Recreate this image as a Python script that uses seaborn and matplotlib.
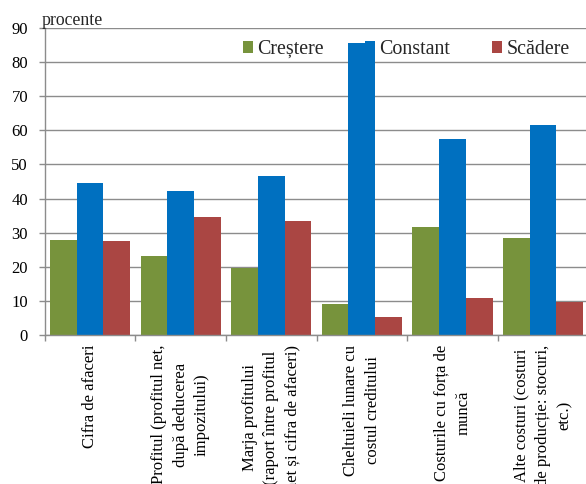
import numpy as np
import pandas as pd
import matplotlib
matplotlib.use("Agg")
import matplotlib.pyplot as plt
import seaborn as sns
from matplotlib.patches import Patch

# Chart data
categories = [
    "Cifra de afaceri",
    "Profitul (profitul net,\ndupă deducerea\nimpozitului)",
    "Marja profitului\n(raport între profitul\nnet și cifra de afaceri)",
    "Cheltuieli lunare cu\ncostul creditului",
    "Costurile cu forța de\nmuncă",
    "Alte costuri (costuri\nde producție: stocuri,\netc.)",
]
series_names = ["Creștere", "Constant", "Scădere"]
crestere = [27.8, 23.1, 19.6, 9.2, 31.7, 28.5]
constant = [44.5, 42.2, 46.6, 85.4, 57.3, 61.4]
scadere = [27.5, 34.5, 33.5, 5.4, 11.0, 9.8]
colors = ["#77933C", "#0070C0", "#AA4643"]

df = pd.DataFrame({
    "categorie": categories * 3,
    "serie": [s for s in series_names for _ in categories],
    "valoare": crestere + constant + scadere,
})

sns.set_theme(style="white")
plt.rcParams["font.family"] = ["Liberation Serif", "DejaVu Serif"]

fig = plt.figure(figsize=(5.86, 4.84), dpi=100)
ax = fig.add_axes([0.0763, 0.3072, 0.9277, 0.6356])

sns.barplot(data=df, x="categorie", y="valoare", hue="serie", order=categories,
            hue_order=series_names, palette=colors, width=0.885, linewidth=0,
            saturation=1, legend=False, ax=ax)

grid_col = "#8C8C8C"
ax.set_axisbelow(True)
ax.set_ylim(0, 90)
ax.set_yticks(np.arange(0, 91, 10))
ax.yaxis.grid(True, color=grid_col, linewidth=1)
ax.set_xlim(-0.5, len(categories) - 0.5)
ax.set_xlabel("")
ax.set_ylabel("")

for side in ["top", "right"]:
    ax.spines[side].set_visible(False)
for side in ["left", "bottom"]:
    ax.spines[side].set_color(grid_col)
    ax.spines[side].set_linewidth(1)

ax.tick_params(axis="y", which="major", direction="out", length=4, width=1,
               color=grid_col, labelsize=12, pad=8, labelcolor="black", left=True)
ax.set_xticks(range(len(categories)))
ax.set_xticklabels(categories, rotation=90, ha="center", va="top",
                   multialignment="center", linespacing=1.45)
ax.set_xticks(np.arange(-0.5, len(categories), 1.0), minor=True)
ax.tick_params(axis="x", which="major", length=0, labelsize=12, pad=7, labelcolor="black")
ax.tick_params(axis="x", which="minor", direction="out", length=4, width=1,
               color=grid_col, bottom=True)

# legend sits under the bars, like in the original (Constant square is hidden)
handles = [Patch(facecolor=c, edgecolor="none") for c in colors]
leg = ax.legend(handles, series_names, loc="center left",
                bbox_to_anchor=(242.7 / 586, 1 - 49.5 / 484),
                bbox_transform=fig.transFigure, ncol=3, frameon=False,
                fontsize=14.4, handlelength=0.5, handleheight=0.5,
                handletextpad=0.2, columnspacing=2.1, borderpad=0,
                borderaxespad=0)
leg.set_zorder(0.9)

fig.text(41.7 / 586, 1 - 25 / 484, "procente", fontsize=12.8, va="baseline", ha="left")

fig.savefig("out.png", dpi=100)
